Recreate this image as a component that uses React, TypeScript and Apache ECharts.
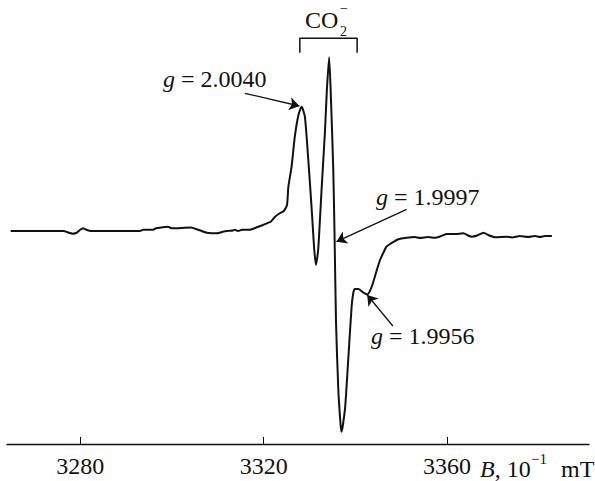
import React, { useEffect, useRef } from "react";
import * as echarts from "echarts";

// Magnetic field B, 10^-1 mT
const fieldB: number[] = [
  3264.8, 3276.4, 3277.3, 3278.4, 3279.3, 3279.9, 3280.6, 3281.2, 3282.3, 3293.0,
  3293.7, 3295.9, 3296.5, 3299.1, 3300.0, 3304.1, 3305.2, 3306.5, 3307.6, 3309.8,
  3310.9, 3312.0, 3313.3, 3313.7, 3314.4, 3315.3, 3317.0, 3318.5, 3319.6, 3320.7,
  3321.6, 3322.5, 3323.6, 3324.4, 3325.1, 3325.4, 3326.1, 3326.8, 3327.6, 3328.3,
  3329.0, 3329.7, 3330.5, 3331.0, 3331.4, 3331.9, 3332.7, 3333.4, 3333.8, 3334.3,
  3334.7, 3335.2, 3335.5, 3335.8, 3336.3, 3336.8, 3337.0, 3337.3, 3337.8, 3338.5,
  3339.2, 3339.6, 3339.9, 3340.7, 3341.8, 3342.6, 3343.6, 3344.7, 3345.4, 3346.1,
  3346.8, 3347.6, 3349.4, 3351.2, 3353.0, 3354.1, 3355.9, 3357.4, 3358.5, 3359.9,
  3361.8, 3363.6, 3364.6, 3365.4, 3366.6, 3368.0, 3369.0, 3370.5, 3373.0, 3374.2,
  3375.9, 3377.7, 3379.2, 3380.3, 3381.4, 3382.9,
];
// EPR signal (first derivative), arbitrary units
const signal: number[] = [
  0, 0, -1.5, -2.7, -1.5, 1, 2.7, 1.5, 0, 0,
  1.3, 1.3, 2.7, 4.3, 2.7, 3.5, 2, 0, -1.7, -2.3,
  -1, 0, 0.5, 1.3, 0, 1.3, 1.3, 3.7, 5.5, 7.7,
  9.5, 14.3, 18, 20, 26, 44.3, 64.3, 94.3, 116, 124.3,
  114.3, 74.3, 21, -15.7, -34, -19, 46, 101, 141, 173.7,
  131, 61, -10.7, -92, -159, -194, -200.7, -194, -175.7, -125.7,
  -75.7, -61, -58, -58, -61.7, -63.5, -55.7, -39, -29, -22,
  -15.7, -13, -8.3, -6.8, -6, -7, -6, -6.8, -5.5, -3,
  -3, -2.3, -4.5, -5.7, -4.5, -1.7, -4, -6.3, -5.7, -6.5,
  -5, -6, -5, -6, -5, -5,
];

const tickValues: number[] = [3280, 3320, 3360];

// CO2- bracket (B, signal)
const bracketB: number[] = [3327.9, 3327.9, 3340.4, 3340.4];
const bracketY: number[] = [178.3, 192.7, 192.7, 178.3];

// arrows: tails and tips (B, signal)
const arrowTails: number[][] = [
  [3315.9, 137.7],
  [3351.2, 21.7],
  [3348.2, -95],
];
const arrowTips: number[][] = [
  [3327.8, 125],
  [3335.9, -10.7],
  [3342.6, -64],
];
const gLabels: string[] = ["2.0040", "1.9997", "1.9956"];

const FONT = "Liberation Serif";

export default function App() {
  const ref = useRef<HTMLDivElement>(null);
  useEffect(() => {
    document.body.style.margin = "0";
    if (!ref.current) return;
    const chart = echarts.init(ref.current, undefined, { renderer: "svg" });
    const data = fieldB.map((b, i) => [b, signal[i]]);
    const bracket = bracketB.map((b, i) => [b, bracketY[i]]);
    const gText = (label: string, x: number, y: number) => ({
      type: "text",
      x,
      y,
      style: {
        text: "{i|g} = " + label,
        fill: "#111",
        fontFamily: FONT,
        fontSize: 24,
        verticalAlign: "middle",
        align: "left",
        rich: {
          i: { fontStyle: "italic", fontFamily: FONT, fontSize: 24, fill: "#111" },
        },
      },
    });
    chart.setOption({
      animation: false,
      backgroundColor: "#fff",
      textStyle: { fontFamily: FONT },
      grid: { left: 7, right: 6, top: 0, bottom: 37, containLabel: false, outerBoundsMode: "none" },
      xAxis: {
        type: "value",
        min: 3264,
        max: 3391,
        axisLine: { show: true, onZero: false, lineStyle: { color: "#111", width: 1.3 } },
        axisTick: {
          show: true,
          inside: true,
          length: 7,
          customValues: tickValues,
          lineStyle: { color: "#111", width: 1 },
        },
        axisLabel: {
          show: true,
          customValues: tickValues,
          formatter: (v: number) => String(v),
          margin: 10,
          color: "#111",
          fontFamily: FONT,
          fontSize: 24,
        },
        splitLine: { show: false },
      },
      yAxis: {
        type: "value",
        min: -213,
        max: 231,
        show: false,
        splitLine: { show: false },
      },
      series: [
        {
          type: "line",
          data,
          showSymbol: false,
          symbol: "none",
          smooth: 0.2,
          lineStyle: { color: "#111", width: 2 },
          markLine: {
            silent: true,
            symbol: ["none", "arrow"],
            symbolSize: 10,
            label: { show: false },
            lineStyle: { color: "#111", width: 1.3, type: "solid" },
            data: arrowTails.map((t, i) => [
              { coord: t },
              { coord: arrowTips[i] },
            ]),
          },
        },
        {
          type: "line",
          data: bracket,
          showSymbol: false,
          symbol: "none",
          lineStyle: { color: "#111", width: 1.5 },
        },
      ],
      graphic: [
        gText(gLabels[0], 163, 79),
        gText(gLabels[1], 376, 197),
        gText(gLabels[2], 371, 336),
        {
          type: "text",
          x: 305,
          y: 20,
          style: { text: "CO", fill: "#111", fontFamily: FONT, fontSize: 24, verticalAlign: "middle" },
        },
        {
          type: "text",
          x: 340,
          y: 31,
          style: { text: "2", fill: "#111", fontFamily: FONT, fontSize: 14, verticalAlign: "middle" },
        },
        {
          type: "text",
          x: 340,
          y: 8,
          style: { text: "\u2212", fill: "#111", fontFamily: FONT, fontSize: 14, verticalAlign: "middle" },
        },
        {
          type: "text",
          x: 480,
          y: 469,
          style: {
            text: "{i|B}, 10",
            fill: "#111",
            fontFamily: FONT,
            fontSize: 24,
            verticalAlign: "middle",
            rich: { i: { fontStyle: "italic", fontFamily: FONT, fontSize: 24, fill: "#111" } },
          },
        },
        {
          type: "text",
          x: 531,
          y: 459,
          style: { text: "\u22121", fill: "#111", fontFamily: FONT, fontSize: 15, verticalAlign: "middle" },
        },
        {
          type: "text",
          x: 561,
          y: 469,
          style: { text: "mT", fill: "#111", fontFamily: FONT, fontSize: 24, verticalAlign: "middle" },
        },
      ],
    });
    return () => chart.dispose();
  }, []);
  return <div ref={ref} style={{ width: 595, height: 481 }} />;
}
